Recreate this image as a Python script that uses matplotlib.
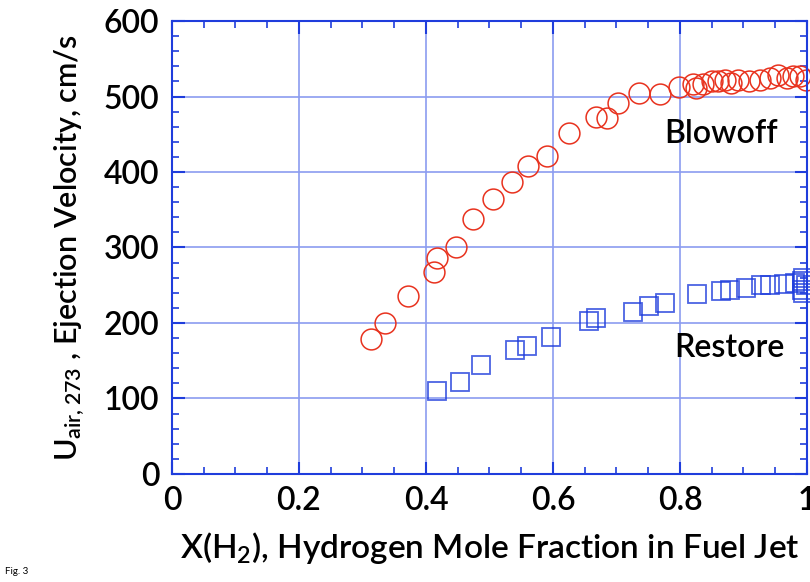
import matplotlib
matplotlib.use("Agg")
import matplotlib.pyplot as plt
from matplotlib.ticker import MultipleLocator

plt.rcParams['font.family'] = ['Lato', 'DejaVu Sans']
plt.rcParams['font.weight'] = 'semibold'
plt.rcParams['axes.labelweight'] = 'semibold'
plt.rcParams['mathtext.fontset'] = 'custom'
plt.rcParams['mathtext.rm'] = 'Lato:semibold'
plt.rcParams['mathtext.default'] = 'rm'

# blowoff (red circles)
x_blow = [0.313, 0.335, 0.372, 0.413, 0.418, 0.448, 0.474, 0.506, 0.535, 0.561,
          0.591, 0.626, 0.668, 0.685, 0.703, 0.736, 0.769, 0.798, 0.821, 0.825,
          0.837, 0.850, 0.860, 0.871, 0.881, 0.892, 0.908, 0.926, 0.942, 0.955,
          0.968, 0.978, 0.989, 0.998]
u_blow = [179, 200, 236, 268, 286, 300, 338, 364, 387, 408,
          421, 452, 473, 472, 492, 504, 503, 513, 517, 511,
          516, 520, 520, 522, 518, 522, 520, 522, 525, 528,
          525, 527, 527, 522]

# restore (blue squares)
x_rest = [0.418, 0.453, 0.486, 0.540, 0.559, 0.597, 0.657, 0.668, 0.726, 0.751,
          0.776, 0.827, 0.864, 0.879, 0.904, 0.927, 0.942, 0.963, 0.981, 0.992,
          0.994, 0.992, 0.994, 0.998]
u_rest = [110, 122, 145, 164, 169, 181, 202, 207, 215, 223,
          227, 239, 242, 244, 247, 250, 250, 252, 253, 255,
          260, 244, 240, 250]

blue = '#1f3ddc'
grid_blue = '#8b9cf0'

fig = plt.figure(figsize=(8.1, 5.82), dpi=100)
ax = fig.add_axes([0.2123, 0.1856, 0.7840, 0.7783])

ax.plot(x_blow, u_blow, 'o', ms=15, mfc='none', mec='#e8321e', mew=1.1, clip_on=False)
ax.plot(x_rest, u_rest, 's', ms=13.5, mfc='none', mec=blue, mew=1.3, alpha=0.8, clip_on=False)

ax.set_xlim(0, 1)
ax.set_ylim(0, 600)
ax.xaxis.set_minor_locator(MultipleLocator(0.05))
ax.yaxis.set_major_locator(MultipleLocator(100))
ax.yaxis.set_minor_locator(MultipleLocator(20))
ax.set_xticks([0, 0.2, 0.4, 0.6, 0.8, 1])
ax.set_xticklabels(['0', '0.2', '0.4', '0.6', '0.8', '1'])

ax.grid(True, which='major', color=grid_blue, lw=1.2)
ax.set_axisbelow(True)
for s in ax.spines.values():
    s.set_color(blue)
    s.set_linewidth(1.5)
ax.tick_params(which='both', direction='in', top=True, right=True, color=blue,
               labelsize=23, pad=9)
ax.tick_params(which='major', length=9, width=1.5)
ax.tick_params(which='minor', length=5, width=1.2)

ax.set_xlabel('X(H$_2$), Hydrogen Mole Fraction in Fuel Jet', fontsize=24, labelpad=10)
ax.set_ylabel('U$_{air,273}$ , Ejection Velocity, cm/s', fontsize=22, labelpad=12)

ax.text(0.954, 439, 'Blowoff', fontsize=23, ha='right', va='baseline')
ax.text(0.965, 155, 'Restore', fontsize=23, ha='right', va='baseline')
fig.text(0.006, 0.013, 'Fig. 3', fontsize=7, fontweight='normal')

fig.savefig('out.png', dpi=100)
